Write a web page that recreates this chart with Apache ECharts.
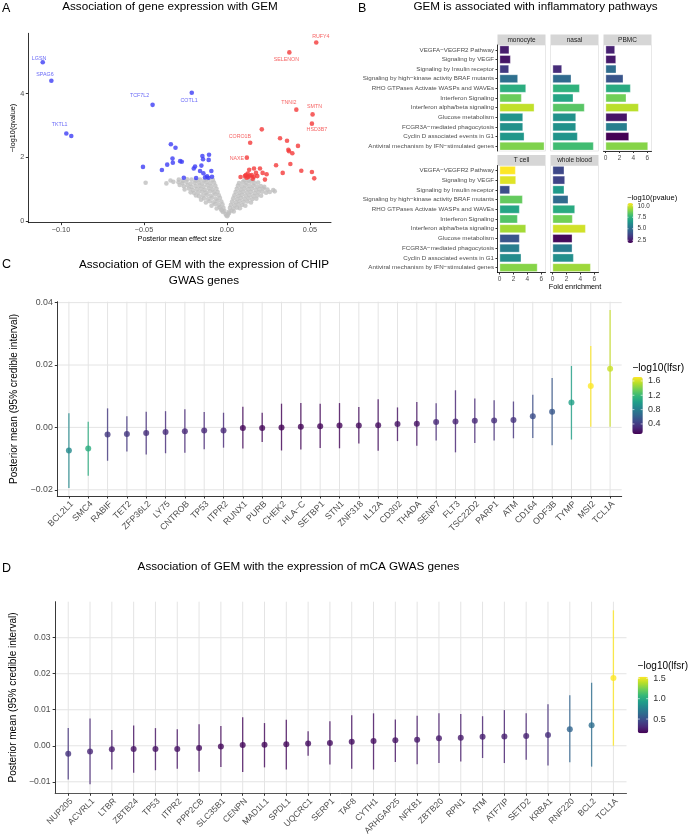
<!DOCTYPE html>
<html><head><meta charset="utf-8">
<script src="https://cdn.jsdelivr.net/npm/echarts@6/dist/echarts.min.js"></script>
<style>html,body{margin:0;padding:0;background:#fff}#main{width:689px;height:840px}</style>
</head><body><div id="main"></div>
<script>
const FONT = "'Liberation Sans', Arial, sans-serif";
const VIRIDIS = ['#440154','#482878','#3e4989','#31688e','#26828e','#1f9e89','#35b779','#6ece58','#b5de2b','#fde725'];
const MN = s => String(s).replace(/-/g, '\u2212');

// ---------- Panel A data ----------
const aXTicks = [-0.1, -0.05, 0, 0.05];
const aYTicks = [0, 2, 4];
const volcanoBlue = [
  [-0.111,4.99,'LGSN'],[-0.1058,4.41,'SPAG6'],[-0.0968,2.75,'TKTL1'],[-0.0938,2.67,''],
  [-0.0448,3.65,'TCF7L2'],[-0.0212,4.03,'COTL1'],
  [-0.0338,2.41,''],[-0.031,2.30,''],[-0.0506,1.70,''],[-0.0392,1.60,''],[-0.036,1.77,''],
  [-0.0328,1.96,''],[-0.0326,1.83,''],[-0.0282,1.88,''],[-0.0272,1.86,''],[-0.026,1.36,''],
  [-0.0148,2.04,''],[-0.0144,1.94,''],[-0.0108,2.08,''],[-0.011,1.92,''],[-0.020,1.65,''],
  [-0.0192,1.71,''],[-0.0162,1.57,''],[-0.0154,1.74,''],[-0.0142,1.50,''],[-0.012,1.40,''],
  [-0.0094,1.57,''],[-0.009,1.39,''],[-0.0186,1.35,''],[-0.0112,1.36,''],[-0.0132,1.37,'']
];
const volcanoRed = [
  [0.0538,5.61,'RUFY4'],[0.0376,5.30,'SELENON'],[0.0418,3.50,'TNNI2'],[0.0516,3.35,'SMTN'],
  [0.0512,3.06,'HSD3B7'],[0.014,2.46,'CORO1B'],[0.012,1.99,'NAXE'],
  [0.021,2.88,''],[0.032,2.60,''],[0.0362,2.52,''],[0.037,2.24,''],[0.0374,2.19,''],[0.0394,2.13,''],
  [0.0428,2.36,''],[0.0382,1.79,''],[0.0296,1.75,''],[0.0336,1.51,''],[0.0448,1.58,''],[0.0512,1.54,''],
  [0.0526,1.34,''],[0.0108,1.41,''],[0.0134,1.61,''],[0.0163,1.65,''],[0.0199,1.65,''],[0.0125,1.49,''],
  [0.0149,1.44,''],[0.0175,1.51,''],[0.0215,1.51,''],[0.0239,1.47,''],[0.0155,1.33,''],[0.0128,1.38,''],
  [0.0114,1.44,''],[0.0183,1.41,''],[0.0229,1.30,''],[0.0082,1.38,''],[0.0138,1.42,''],[0.0119,1.36,''],
  [0.0162,1.39,'']
];
const volcanoGrey = [
  [-0.0008,0.22],[0.0006,0.2],[-0.0003,0.17],[0.0012,0.24],[0.0002,0.15],
  [-0.0015,0.31],[-0.0032,0.33],[-0.0024,0.28],
  [-0.0021,0.41],[-0.0043,0.43],[-0.0062,0.39],[-0.0035,0.37],
  [-0.0027,0.52],[-0.0049,0.5],[-0.0071,0.53],[-0.0093,0.48],
  [-0.0034,0.61],[-0.0058,0.63],[-0.0081,0.59],[-0.0104,0.62],[-0.0127,0.58],
  [-0.0042,0.72],[-0.0066,0.7],[-0.009,0.73],[-0.0113,0.69],[-0.0138,0.71],[-0.0156,0.67],
  [-0.0049,0.81],[-0.0072,0.83],[-0.0097,0.79],[-0.012,0.82],[-0.0144,0.8],[-0.0168,0.78],[-0.0187,0.8],
  [-0.0056,0.91],[-0.0079,0.9],[-0.0103,0.93],[-0.0127,0.89],[-0.015,0.92],[-0.0174,0.9],[-0.0198,0.88],[-0.0219,0.9],
  [-0.0063,1.01],[-0.0086,0.99],[-0.011,1.02],[-0.0134,0.98],[-0.0158,1.01],[-0.0181,1.0],[-0.0205,0.97],[-0.0229,1.02],[-0.0255,0.99],
  [-0.007,1.11],[-0.0094,1.09],[-0.0118,1.12],[-0.0141,1.08],[-0.0165,1.11],[-0.0189,1.1],[-0.0213,1.07],[-0.0237,1.12],[-0.026,1.09],[-0.0285,1.13],
  [-0.0078,1.21],[-0.0101,1.19],[-0.0125,1.22],[-0.0149,1.18],[-0.0172,1.21],[-0.0196,1.2],[-0.022,1.17],[-0.0244,1.23],[-0.0268,1.19],[-0.0292,1.22],[-0.0323,1.23],
  [-0.0085,1.29],[-0.011,1.31],[-0.0136,1.28],[-0.0162,1.3],[-0.0188,1.27],[-0.0214,1.3],[-0.024,1.31],[-0.0266,1.26],
  [-0.049,1.2],[-0.0365,1.18],[-0.034,1.27],[-0.029,1.3],
  [0.0012,0.29],[0.0028,0.32],[0.0041,0.3],
  [0.0018,0.41],[0.0039,0.39],[0.006,0.42],[0.0078,0.4],
  [0.0024,0.51],[0.0046,0.49],[0.0069,0.52],[0.0091,0.5],[0.0111,0.48],
  [0.0031,0.61],[0.0054,0.59],[0.0077,0.62],[0.01,0.6],[0.0123,0.61],[0.0145,0.58],
  [0.0038,0.71],[0.0061,0.69],[0.0084,0.72],[0.0107,0.7],[0.013,0.71],[0.0153,0.68],[0.0177,0.7],
  [0.0045,0.81],[0.0068,0.79],[0.0091,0.82],[0.0114,0.8],[0.0137,0.81],[0.016,0.78],[0.0183,0.8],[0.0206,0.79],
  [0.0052,0.91],[0.0075,0.89],[0.0098,0.92],[0.0121,0.9],[0.0144,0.91],[0.0167,0.88],[0.019,0.9],[0.0213,0.92],[0.0236,0.89],[0.0258,0.91],
  [0.0059,1.01],[0.0082,0.99],[0.0105,1.02],[0.0128,1.0],[0.0151,1.01],[0.0174,0.98],[0.0197,1.0],[0.022,1.02],[0.0244,0.99],[0.0279,0.97],[0.0288,0.93],
  [0.0066,1.11],[0.0089,1.09],[0.0112,1.12],[0.0135,1.1],[0.0158,1.11],[0.0181,1.08],[0.0204,1.1],[0.0225,1.07],
  [0.0073,1.19],[0.0096,1.22],[0.0119,1.2],[0.0142,1.23],[0.0165,1.19],[0.0188,1.21],
  [0.0105,1.28],[0.0132,1.27],[0.0158,1.29]
];

// ---------- Panel B data ----------
const pathways = ['VEGFA\u2212VEGFR2 Pathway','Signaling by VEGF','Signaling by Insulin receptor',
  'Signaling by high\u2212kinase activity BRAF mutants','RHO GTPases Activate WASPs and WAVEs',
  'Interferon Signaling','Interferon alpha/beta signaling','Glucose metabolism',
  'FCGR3A\u2212mediated phagocytosis','Cyclin D associated events in G1',
  'Antiviral mechanism by IFN\u2212stimulated genes'];
const cellTypes = ['monocyte','nasal','PBMC','T cell','whole blood'];
const foldMonocyte = [1.39,1.59,1.35,2.64,3.8,3.17,5.0,3.37,3.37,3.56,6.44];
const pvalMonocyte = [2.6,2.4,3.4,5.1,7.3,8.6,9.8,6.4,6.3,6.5,8.9];
const foldNasal = [null,null,1.35,2.69,3.9,2.98,4.6,3.37,3.37,3.6,5.9];
const pvalNasal = [null,null,3.0,4.9,7.5,7.0,8.3,6.3,6.3,6.4,7.9];
const foldPBMC = [1.35,1.5,1.54,2.55,3.6,2.98,4.76,3.12,3.12,3.37,6.1];
const pvalPBMC = [2.7,2.5,5.0,4.2,7.2,8.7,9.7,2.4,5.6,1.9,9.0];
const foldTcell = [2.31,2.36,1.49,3.32,2.88,2.6,3.8,2.88,2.88,3.12,5.45];
const pvalTcell = [10.6,10.2,4.0,8.5,7.0,8.2,9.4,4.2,5.6,6.1,9.0];
const foldWholeBlood = [1.68,1.78,1.68,2.26,3.22,2.88,4.76,2.84,2.84,3.03,5.48];
const pvalWholeBlood = [3.8,3.7,6.6,4.9,7.2,8.7,10.0,2.1,5.5,6.2,9.3];
const bXTicks = [0,2,4,6];
const pvalTicks = [2.5,5.0,7.5,10.0];

// ---------- Panel C data ----------
const chipGenes = ['BCL2L1','SMC4','RABIF','TET2','ZFP36L2','LY75','CNTROB','TP53','ITPR2','RUNX1','PURB','CHEK2',
  'HLA\u2212C','SETBP1','STN1','ZNF318','IL12A','CD302','THADA','SENP7','FLT3','TSC22D2','PARP1','ATM','CD164','ODF3B','TYMP','MSI2','TCL1A'];
const chipMean = [-0.0074,-0.0068,-0.0023,-0.0021,-0.0018,-0.0015,-0.0012,-0.001,-0.001,-0.0002,-0.0002,0.0000,0.0002,0.0004,0.0006,
  0.0006,0.0007,0.0011,0.0012,0.0017,0.0019,0.0021,0.0022,0.0024,0.0036,0.005,0.008,0.0133,0.0188];
const chipLo = [-0.0194,-0.0155,-0.0107,-0.0077,-0.0087,-0.0083,-0.0081,-0.007,-0.0065,-0.0068,-0.0047,-0.0074,-0.0071,-0.0066,-0.0067,
  -0.0052,-0.0075,-0.0044,-0.0059,-0.0042,-0.008,-0.005,-0.0042,-0.0035,-0.0034,-0.0057,-0.0039,0.0002,0.0002];
const chipHi = [0.0045,0.0018,0.0061,0.0036,0.005,0.0052,0.0058,0.0049,0.0047,0.0066,0.0047,0.0076,0.0078,0.0076,0.0078,
  0.0065,0.009,0.0064,0.0081,0.0077,0.0119,0.0093,0.0087,0.0083,0.0105,0.0158,0.0197,0.0261,0.0376];
const chipLfsr = [0.88,1.1,0.38,0.37,0.33,0.32,0.3,0.3,0.3,0.15,0.15,0.13,0.14,0.15,0.15,
  0.17,0.18,0.2,0.2,0.3,0.28,0.3,0.33,0.35,0.5,0.56,1.02,1.71,1.58];
const cYTicks = [-0.02,0,0.02,0.04];
const cLfsrTicks = [0.4,0.8,1.2,1.6];

// ---------- Panel D data ----------
const mcaGenes = ['NUP205','ACVRL1','LTBR','ZBTB24','TP53','ITPR2','PPP2CB','SLC35B1','CENPN','MAD1L1','SPDL1','UQCRC1','SERP1',
  'TAF8','CYTH1','ARHGAP25','NFKB1','ZBTB20','RPN1','ATM','ATF7IP','SETD2','KRBA1','RNF220','BCL2','TCL1A'];
const mcaMean = [-0.0022,-0.0016,-0.001,-0.0009,-0.0009,-0.0009,-0.0006,-0.0002,0.0002,0.0003,0.0004,0.0006,0.0008,
  0.0011,0.0013,0.0015,0.0017,0.0021,0.0022,0.0025,0.0026,0.0027,0.003,0.0046,0.0057,0.0188];
const mcaLo = [-0.0094,-0.0107,-0.0066,-0.0075,-0.0068,-0.0064,-0.0072,-0.0059,-0.0073,-0.006,-0.0066,-0.0028,-0.0052,
  -0.0064,-0.0066,-0.0045,-0.0051,-0.0048,-0.0044,-0.0034,-0.0048,-0.0039,-0.0055,-0.0046,-0.0058,0.0];
const mcaHi = [0.0049,0.0076,0.0044,0.0056,0.0049,0.0046,0.006,0.0055,0.0079,0.0063,0.0072,0.004,0.0068,
  0.0085,0.009,0.0073,0.0083,0.009,0.0088,0.0082,0.0099,0.009,0.0115,0.014,0.0175,0.0376];
const mcaLfsr = [0.35,0.3,0.25,0.22,0.22,0.22,0.2,0.18,0.18,0.18,0.18,0.2,0.2,
  0.2,0.2,0.22,0.24,0.25,0.25,0.27,0.27,0.28,0.33,0.6,0.65,1.54];
const dYTicks = [-0.01,0,0.01,0.02,0.03];
const dLfsrTicks = [0.5,1.0,1.5];

// ---------- styles / layout ----------
const BLUE = '#3d3df5', RED = '#f43a3a', GREY = '#bfbfbf';
const labelOffset = {LGSN:[-3.7,-3.7], SPAG6:[-6.4,-6], TKTL1:[-6.7,-9.3], TCF7L2:[-13,-9], COTL1:[-2.7,7.3],
  RUFY4:[4.6,-5.6], SELENON:[-3,6.7], TNNI2:[-7.4,-7.4], SMTN:[2,-7.6], HSD3B7:[5,6.3], CORO1B:[-10.3,-5.7], NAXE:[-10,1]};
const bFacetLayout = [
  {left:497.5, top:45, height:106, yLabels:true,  xLabels:false},
  {left:550.5, top:45, height:106, yLabels:false, xLabels:false},
  {left:603.5, top:45, height:106, yLabels:false, xLabels:true},
  {left:497.5, top:165.5, height:107, yLabels:true,  xLabels:true},
  {left:550.5, top:165.5, height:107, yLabels:false, xLabels:true}
];
const bFolds = [foldMonocyte, foldNasal, foldPBMC, foldTcell, foldWholeBlood];
const bPvals = [pvalMonocyte, pvalNasal, pvalPBMC, pvalTcell, pvalWholeBlood];
const B_FACET_W = 48;
const bLegend = {left:627.3, top:203, w:6, h:40, min:1.9, max:10.6};
const cLegend = {left:632.3, top:377, w:10.5, h:57, min:0.12, max:1.71};
const dLegend = {left:637.7, top:676.7, w:10.6, h:56.6, min:0.15, max:1.54};

const grids = [
  {left:28.3, top:33.3, width:302.7, height:189.4},
  ...bFacetLayout.map(f => ({left:f.left, top:f.top, width:B_FACET_W, height:f.height, show:true, borderColor:'#e2e2e2', borderWidth:0.8})),
  {left:57.3, top:301.7, width:564.4, height:194.3},
  {left:51.7, top:601.7, width:574.8, height:191.6}
];

const tickLbl = (size) => ({fontSize:size, color:'#4d4d4d', fontFamily:FONT});
const xAxes = [], yAxes = [];
// A
xAxes.push({gridIndex:0, type:'value', min:-0.1197, max:0.0627, splitLine:{show:false},
  axisLine:{onZero:false, lineStyle:{color:'#000', width:0.8}}, axisTick:{customValues:aXTicks, length:2.5, lineStyle:{color:'#333'}},
  axisLabel:{customValues:aXTicks, formatter:v=>MN(v.toFixed(2)), margin:4, ...tickLbl(7.3)},
  name:'Posterior mean effect size', nameLocation:'middle', nameGap:12.5, nameTextStyle:{fontSize:7.3, color:'#000', fontFamily:FONT}});
yAxes.push({gridIndex:0, type:'value', min:-0.055, max:5.9, splitLine:{show:false},
  axisLine:{show:true, onZero:false, lineStyle:{color:'#000', width:0.8}}, axisTick:{show:true, customValues:aYTicks, length:2.5, lineStyle:{color:'#333'}},
  axisLabel:{customValues:aYTicks, formatter:v=>String(v), margin:4, ...tickLbl(7.3)},
  name:'\u2212log10(qvalue)', nameLocation:'middle', nameGap:10, nameRotate:90, nameTextStyle:{fontSize:7.3, color:'#000', fontFamily:FONT}});
// B
bFacetLayout.forEach((f, i) => {
  xAxes.push({gridIndex:i+1, type:'value', min:-0.3, max:6.6, splitLine:{show:false},
    axisLine:{show:f.xLabels, onZero:false, lineStyle:{color:'#000', width:0.8}},
    axisTick:{show:f.xLabels, customValues:bXTicks, length:2, lineStyle:{color:'#333'}},
    axisLabel:{show:f.xLabels, customValues:bXTicks, formatter:v=>String(v), margin:3.5, ...tickLbl(6.5)}});
  yAxes.push({gridIndex:i+1, type:'category', data:pathways, inverse:true,
    axisLine:{show:f.yLabels, onZero:false, lineStyle:{color:'#000', width:0.8}},
    axisTick:{show:f.yLabels, alignWithLabel:true, length:2, lineStyle:{color:'#333'}},
    axisLabel:{show:f.yLabels, margin:3.5, interval:0, ...tickLbl(6.2)}});
});
// C
const chipIdx = chipGenes.map((g, i) => i);
xAxes.push({gridIndex:6, type:'value', min:-0.6, max:chipGenes.length - 0.4, splitLine:{show:false},
  axisLine:{onZero:false, lineStyle:{color:'#222', width:0.9}}, axisTick:{customValues:chipIdx, length:2.5, lineStyle:{color:'#333'}},
  axisLabel:{customValues:chipIdx, formatter:v=>chipGenes[Math.round(v)], rotate:45, align:'right', verticalAlign:'top', margin:3.5, ...tickLbl(8.8)}});
yAxes.push({gridIndex:6, type:'value', min:-0.022, max:0.0403, splitLine:{show:false},
  axisLine:{show:true, onZero:false, lineStyle:{color:'#222', width:0.9}}, axisTick:{show:true, customValues:cYTicks, length:2.5, lineStyle:{color:'#333'}},
  axisLabel:{customValues:cYTicks, formatter:v=>MN(v.toFixed(2)), margin:4.5, ...tickLbl(8.8)},
  name:'Posterior mean (95% credible interval)', nameLocation:'middle', nameGap:29, nameRotate:90,
  nameTextStyle:{fontSize:10, color:'#000', fontFamily:FONT}});
// D
const mcaIdx = mcaGenes.map((g, i) => i);
xAxes.push({gridIndex:7, type:'value', min:-0.6, max:mcaGenes.length - 0.4, splitLine:{show:false},
  axisLine:{onZero:false, lineStyle:{color:'#444', width:0.9}}, axisTick:{customValues:mcaIdx, length:2.5, lineStyle:{color:'#333'}},
  axisLabel:{customValues:mcaIdx, formatter:v=>mcaGenes[Math.round(v)], rotate:45, align:'right', verticalAlign:'top', margin:3.5, ...tickLbl(8.6)}});
yAxes.push({gridIndex:7, type:'value', min:-0.0132, max:0.04, splitLine:{show:false},
  axisLine:{show:true, onZero:false, lineStyle:{color:'#222', width:0.9}}, axisTick:{show:true, customValues:dYTicks, length:2.5, lineStyle:{color:'#333'}},
  axisLabel:{customValues:dYTicks, formatter:v=>MN(v.toFixed(2)), margin:4.5, ...tickLbl(8.6)},
  name:'Posterior mean (95% credible interval)', nameLocation:'middle', nameGap:31, nameRotate:90,
  nameTextStyle:{fontSize:10, color:'#000', fontFamily:FONT}});

// ---------- series ----------
function volcanoItems(arr) {
  return arr.map(d => {
    const it = {value:[d[0], d[1]], name:d[2]};
    if (d[2]) it.label = {show:true, position:'inside', offset:labelOffset[d[2]], formatter:'{b}'};
    return it;
  });
}
function gridLines(idx, vals, dir) {
  return {type:'custom', xAxisIndex:idx, yAxisIndex:idx, silent:true, z:0, data:vals.map(v => [v]),
    renderItem:(params, api) => {
      const cs = params.coordSys, v = api.value(0);
      if (dir === 'h') {
        const y = api.coord([0, v])[1];
        return {type:'line', shape:{x1:cs.x, y1:y, x2:cs.x + cs.width, y2:y}, style:{stroke:'#e4e4e4', lineWidth:1}};
      }
      const x = api.coord([v, 0])[0];
      return {type:'line', shape:{x1:x, y1:cs.y, x2:x, y2:cs.y + cs.height}, style:{stroke:'#e4e4e4', lineWidth:1}};
    }};
}
function errorBars(idx, genes, lo, hi, lfsr) {
  return {type:'custom', xAxisIndex:idx, yAxisIndex:idx, silent:true, z:2,
    data:genes.map((g, i) => [i, lo[i], hi[i], lfsr[i]]),
    renderItem:(params, api) => {
      const p1 = api.coord([api.value(0), api.value(1)]), p2 = api.coord([api.value(0), api.value(2)]);
      return {type:'line', shape:{x1:p1[0], y1:p1[1], x2:p2[0], y2:p2[1]},
        style:{stroke:api.visual('color'), lineWidth:1.3, opacity:0.8}};
    }};
}
const series = [
  {type:'scatter', xAxisIndex:0, yAxisIndex:0, data:volcanoGrey, symbolSize:4.6, itemStyle:{color:GREY}, silent:true},
  {type:'scatter', xAxisIndex:0, yAxisIndex:0, data:volcanoItems(volcanoBlue), symbolSize:4.6, itemStyle:{color:BLUE}, silent:true,
    label:{color:BLUE, fontSize:5.3, fontFamily:FONT}},
  {type:'scatter', xAxisIndex:0, yAxisIndex:0, data:volcanoItems(volcanoRed), symbolSize:4.6, itemStyle:{color:RED}, silent:true,
    label:{color:RED, fontSize:5.3, fontFamily:FONT}}
];
bFolds.forEach((fold, i) => {
  const pv = bPvals[i];
  series.push({type:'bar', xAxisIndex:i+1, yAxisIndex:i+1, barCategoryGap:'12%', silent:true,
    itemStyle:{borderColor:'rgba(255,255,255,0.55)', borderWidth:0.6},
    data:pathways.map((p, j) => fold[j] == null ? [null, p, null] : [fold[j], p, pv[j]])});
});
series.push(gridLines(6, cYTicks, 'h'), gridLines(6, chipIdx, 'v'),
  errorBars(6, chipGenes, chipLo, chipHi, chipLfsr),
  {type:'scatter', xAxisIndex:6, yAxisIndex:6, symbolSize:6, silent:true, z:3,
    data:chipGenes.map((g, i) => [i, chipMean[i], chipMean[i], chipLfsr[i]])});
series.push(gridLines(7, dYTicks, 'h'), gridLines(7, mcaIdx, 'v'),
  errorBars(7, mcaGenes, mcaLo, mcaHi, mcaLfsr),
  {type:'scatter', xAxisIndex:7, yAxisIndex:7, symbolSize:6, silent:true, z:3,
    data:mcaGenes.map((g, i) => [i, mcaMean[i], mcaMean[i], mcaLfsr[i]])});

const vm = (L, idx, dim) => ({type:'continuous', seriesIndex:idx, dimension:dim, min:L.min, max:L.max,
  inRange:{color:VIRIDIS}, calculable:false, orient:'vertical', left:L.left, top:L.top, itemWidth:L.w, itemHeight:L.h,
  padding:0, hoverLink:false, textStyle:{fontSize:0}});

// ---------- text / graphic ----------
const G = [];
function txt(text, x, y, size, align, color, weight) {
  G.push({type:'text', x:x, y:y, silent:true, style:{text:text, fill:color || '#000',
    font:(weight || 'normal') + ' ' + size + 'px ' + FONT, textAlign:align || 'center', align:align || 'center',
    textVerticalAlign:'middle', verticalAlign:'middle'}});
}
txt('A', 2, 8.5, 12.5, 'left');
txt('Association of gene expression with GEM', 170, 7, 11.7);
txt('B', 358, 8.5, 12.5, 'left');
txt('GEM is associated with inflammatory pathways', 535.5, 7, 11.7);
txt('C', 2, 265, 12.5, 'left');
txt('Association of GEM with the expression of CHIP', 204, 265, 11.7);
txt('GWAS genes', 204, 280.7, 11.7);
txt('D', 2, 569, 12.5, 'left');
txt('Association of GEM with the expression of mCA GWAS genes', 298.5, 567, 11.7);
txt('Fold enrichment', 575, 287, 7.3);
// strips
bFacetLayout.forEach((f, i) => {
  G.push({type:'rect', silent:true, shape:{x:f.left, y:f.top - 10.5, width:B_FACET_W, height:10.5}, style:{fill:'#d6d6d6'}});
  txt(cellTypes[i], f.left + B_FACET_W / 2, f.top - 5.2, 6.5, 'center', '#1a1a1a');
});
// legends
function legendTicks(L, ticks, lx, size, fmt) {
  ticks.forEach(v => {
    const y = L.top + (L.max - v) / (L.max - L.min) * L.h;
    txt(fmt(v), lx, y, size, 'left', '#333');
    G.push({type:'line', silent:true, z:100, shape:{x1:L.left, y1:y, x2:L.left + L.w * 0.2, y2:y}, style:{stroke:'#fff', lineWidth:0.6}});
    G.push({type:'line', silent:true, z:100, shape:{x1:L.left + L.w * 0.8, y1:y, x2:L.left + L.w, y2:y}, style:{stroke:'#fff', lineWidth:0.6}});
  });
}
txt('\u2212log10(pvalue)', 627.3, 197.7, 7.5, 'left');
legendTicks(bLegend, pvalTicks, 637.5, 6.3, v => v.toFixed(1));
txt('\u2212log10(lfsr)', 632.3, 368, 10.3, 'left');
legendTicks(cLegend, cLfsrTicks, 648, 9, v => v.toFixed(1));
txt('\u2212log10(lfsr)', 637.7, 666.7, 10, 'left');
legendTicks(dLegend, dLfsrTicks, 653.3, 9, v => v.toFixed(1));

const chart = echarts.init(document.getElementById('main'), null, {renderer:'canvas'});
chart.setOption({
  backgroundColor:'#fff', animation:false,
  textStyle:{fontFamily:FONT},
  grid:grids, xAxis:xAxes, yAxis:yAxes, series:series,
  visualMap:[vm(bLegend, [3,4,5,6,7], 2), vm(cLegend, [10,11], 3), vm(dLegend, [14,15], 3)],
  graphic:{elements:G}
});
</script></body></html>
